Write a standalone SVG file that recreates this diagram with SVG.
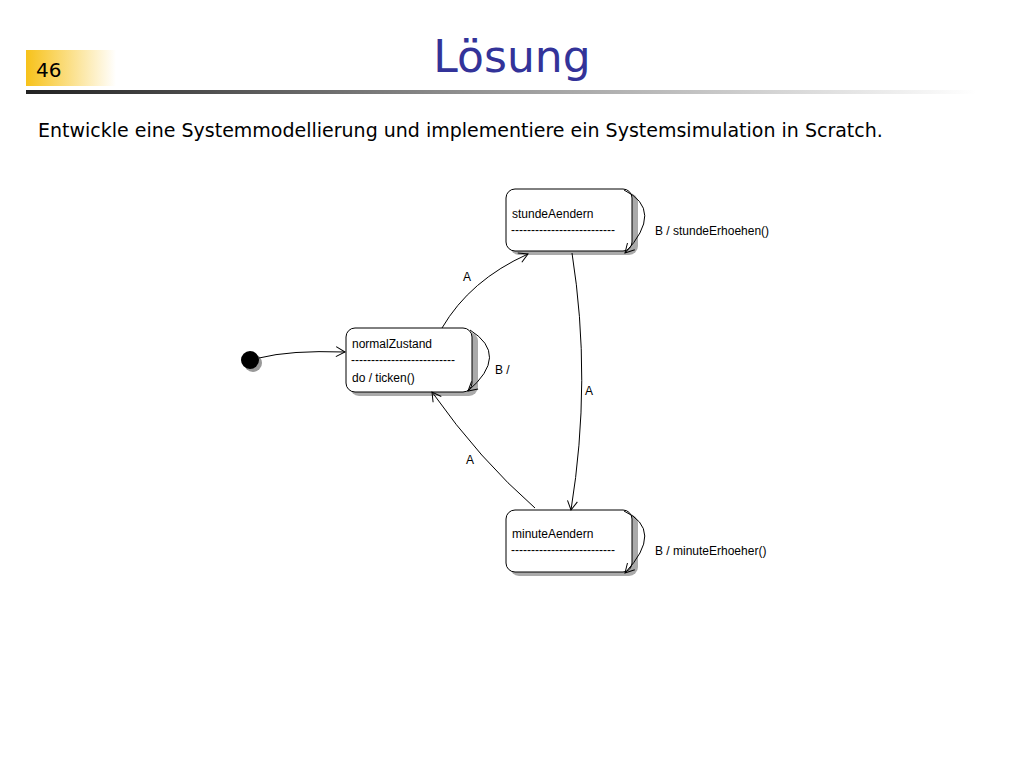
<svg xmlns="http://www.w3.org/2000/svg" width="1024" height="768" viewBox="0 0 1024 768">
<defs>
<linearGradient id="bar" x1="0" x2="1"><stop offset="0" stop-color="#222"/><stop offset="0.5" stop-color="#999"/><stop offset="1" stop-color="#fff"/></linearGradient>
<linearGradient id="num" x1="0" x2="1"><stop offset="0" stop-color="#f7c21a"/><stop offset="0.5" stop-color="#fbe08a"/><stop offset="1" stop-color="#fff"/></linearGradient>
<marker id="ah" markerWidth="12" markerHeight="12" refX="10" refY="6" orient="auto" markerUnits="userSpaceOnUse"><path d="M1,1 L10,6 L1,11" fill="none" stroke="#000" stroke-width="1"/></marker>
</defs>
<style>
.st{fill:#fff;stroke:#000;stroke-width:1}
.sh{fill:#aaa}
.t{font-family:Arial,"Liberation Sans",sans-serif;font-size:12px;fill:#000}
.c{fill:none;stroke:#000;stroke-width:1;marker-end:url(#ah)}
</style>
<rect width="1024" height="768" fill="#fff"/>
<rect x="26" y="50" width="90" height="36" fill="url(#num)"/>
<text x="36" y="77" font-family="Tahoma,'DejaVu Sans',sans-serif" font-size="20" fill="#000">46</text>
<text x="512" y="72" text-anchor="middle" font-family="Tahoma,'DejaVu Sans',sans-serif" font-size="44" fill="#333399">Lösung</text>
<rect x="26" y="90" width="950" height="4" fill="url(#bar)"/>
<text x="38" y="137" font-family="Tahoma,'DejaVu Sans',sans-serif" font-size="19" fill="#000">Entwickle eine Systemmodellierung und implementiere ein Systemsimulation in Scratch.</text>
<circle cx="251" cy="361" r="9" fill="#999" transform="translate(2,2)"/>
<circle cx="250" cy="360" r="9" fill="#000"/>
<g id="stundeAendern"><rect class="sh" x="510" y="193" width="128" height="62" rx="9"/><rect class="st" x="506" y="189" width="126" height="62" rx="9"/><text class="t" x="512" y="218">stundeAendern</text><text class="t" x="511" y="234">--------------------------</text></g>
<g id="normalZustand"><rect class="sh" x="350" y="332" width="128" height="64" rx="9"/><rect class="st" x="346" y="328" width="126" height="64" rx="9"/><text class="t" x="352" y="348">normalZustand</text><text class="t" x="351" y="364">--------------------------</text><text class="t" x="352" y="382">do / ticken()</text></g>
<g id="minuteAendern"><rect class="sh" x="510" y="514" width="128" height="62" rx="9"/><rect class="st" x="506" y="510" width="126" height="62" rx="9"/><text class="t" x="512" y="538">minuteAendern</text><text class="t" x="511" y="554">--------------------------</text></g>
<g id="connectors">
<path class="c" d="M259,358 Q290,350 345,352"/>
<path class="c" d="M442,328 Q470,280 528,254"/>
<path class="t" d="" />
<path class="c" d="M572,253 Q592,380 571,510"/>
<path class="c" d="M535,508 Q480,460 432,392"/>
<path class="c" d="M624,190 Q665,210 625,253"/>
<path class="c" d="M470,330 Q510,355 468,391"/>
<path class="c" d="M624,511 Q665,530 625,573"/>
</g>
<text class="t" x="463" y="281">A</text>
<text class="t" x="585" y="395">A</text>
<text class="t" x="466" y="464">A</text>
<text class="t" x="495" y="374">B /</text>
<text class="t" x="655" y="235">B / stundeErhoehen()</text>
<text class="t" x="655" y="555">B / minuteErhoeher()</text>
</svg>
